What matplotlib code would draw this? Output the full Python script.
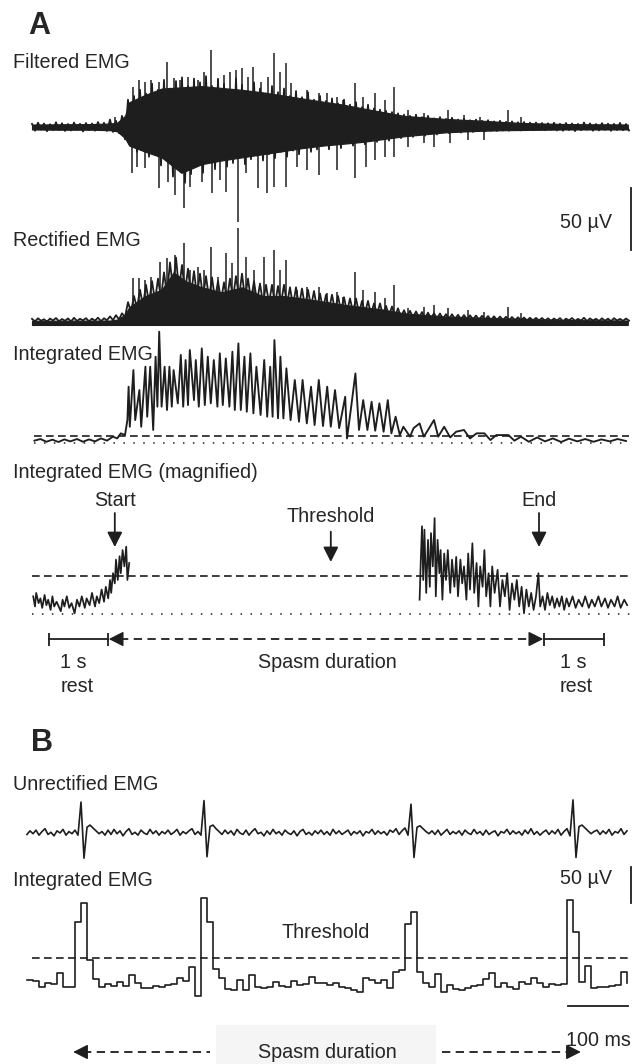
import numpy as np
import matplotlib
matplotlib.use("Agg")
import matplotlib.pyplot as plt
from matplotlib.patches import Rectangle

plt.rcParams['font.family'] = ['Liberation Sans', 'DejaVu Sans']

W, H = 633, 1064
INK = '#1e1e1e'
TXT = '#262626'
FS = 14.2

# ======================= DATA =======================
# ---- Panel A : time in s, amplitude in µV ----
# dense core of the filtered burst (upper / lower edge)
filt_env_t = [0.0, 0.5, 1.0, 1.3, 1.42, 1.55, 1.62, 1.89, 2.16, 2.49,
              2.83, 3.16, 3.50, 3.84, 4.18, 4.51, 4.85, 5.19, 5.52, 5.86,
              6.20, 6.53, 6.87, 7.20, 7.54, 7.87, 8.21, 8.55, 8.89, 9.3, 9.6, 9.93]
filt_env_up = [2.0, 2.2, 2.4, 2.8, 3.5, 9, 20, 26, 31, 32,
               33, 31.5, 30, 28, 25.5, 23, 20.5, 18, 15, 12,
               9, 7.8, 6.6, 5.8, 5.0, 4.0, 3.2, 2.8, 2.4, 2.2, 2.2, 2.0]
filt_env_lo = [-2.0, -2.2, -2.2, -2.6, -3.5, -9, -15, -20, -24.5, -37,
               -30, -27, -24.5, -22, -19.5, -17, -15, -13.5, -12, -9.7,
               -7.5, -6, -4.4, -3.6, -3.0, -2.6, -2.4, -2.2, -2.0, -2.0, -2.0, -2.0]
# sampled trace (every 50 ms) giving the jagged texture of the filtered EMG
filt_dt = 0.05
filt_zz = [2.5, -3, 3.5, -2, 2.8, -3.4, 2.2, -2.6, 3.8, -2.4,
           3, -3.2, 2.4, -2.8, 3.6, -2.2, 2.6, -3.6, 3.2, -2.5,
           2.8, -3, 4, -2.6, 3.4, -3.2, 6, -4, 5, -5,
           9, -10, 22, -14, 25, -20, 30, -17, 27, -24,
           35, -21, 30, -31, 38, -26, 31, -40, 37, -33,
           40, -45, 33, -38, 39, -30, 36, -37, 41, -28,
           33, -34, 38, -27, 35, -32, 30, -29, 39, -25,
           34, -30, 29, -26, 36, -23, 31, -27, 27, -22,
           33, -25, 28, -20, 31, -24, 25, -19, 29, -22,
           24, -17, 28, -20, 22, -18, 25, -15, 21, -18,
           23, -14, 19, -17, 22, -13, 18, -15, 20, -12,
           16, -14, 18, -11, 15, -12, 14, -10, 13, -11,
           12, -8, 11, -9, 10, -7, 9, -8, 10, -6,
           8, -7, 9, -5, 7, -6, 8, -4.5, 6.5, -5,
           7.5, -4, 6, -4.5, 6.5, -3.5, 5.5, -4, 6, -3,
           5, -3.5, 5.5, -3, 4.5, -3.2, 5, -2.8, 4.2, -3,
           4.5, -2.6, 3.8, -2.8, 4, -2.5, 3.5, -2.6, 3.6, -2.4,
           3.2, -2.5, 3, -2.2, 3.4, -2.8, 2.6, -3, 3.2, -2.4,
           2.8, -3.3, 2.5, -2.6, 3.6, -2.2, 2.9, -3, 2.4, -2.7,
           3.1, -2.3, 2.7, -3.1, 2.5, -2.4, 3.3, -2.6, 2.4, -2.8]
filt_up_t = [1.30, 1.38, 1.69, 1.79, 1.89, 1.99, 2.12, 2.25, 2.36, 2.46,
             2.60, 2.76, 2.86, 2.98, 3.10, 3.20, 3.30, 3.40, 3.50, 3.60,
             3.69, 3.81, 3.94, 4.04, 4.14, 4.23, 4.31, 4.58, 4.78, 4.92,
             5.09, 5.19, 5.39, 5.52, 5.72, 5.89, 6.04, 6.26, 6.53, 6.94,
             7.20, 7.47, 7.93, 8.15]
filt_up_v = [6, 8, 32.5, 37.9, 36.5, 37.9, 36.5, 52.7, 39.2, 37.9,
             40.6, 37.9, 44.6, 62.1, 39.2, 41.9, 44.6, 46.0, 47.3, 40.6,
             48.6, 36.5, 40.6, 59.4, 44.6, 51.9, 35.2, 29.8, 27.2, 27.2,
             24.4, 21.8, 35.2, 24.4, 27.2, 21.8, 32.0, 13.7, 11.0, 13.7,
             9.7, 8.3, 13.7, 8.3]
filt_lo_t = [1.67, 1.75, 1.89, 2.12, 2.26, 2.39, 2.53, 2.63, 2.83, 3.00,
             3.13, 3.23, 3.44, 3.57, 3.77, 3.91, 4.04, 4.23, 4.41, 4.58,
             4.78, 5.09, 5.39, 5.56, 5.72, 5.89, 6.03, 6.26, 6.53, 6.70,
             6.97, 7.27, 7.54]
filt_lo_v = [-37.4, -32.0, -33.3, -49.4, -44.1, -54.8, -65.6, -48.1, -44.1, -53.5,
             -42.7, -52.2, -76.4, -37.4, -49.4, -53.5, -48.1, -48.1, -32.0, -34.7,
             -38.7, -34.7, -41.4, -32.0, -26.6, -24.0, -24.0, -15.9, -13.2, -15.9,
             -13.2, -10.5, -10.5]

rect_env_t = [0.0, 1.3, 1.42, 1.55, 1.62, 1.89, 2.16, 2.36, 2.56, 2.83,
              3.16, 3.50, 3.84, 4.18, 4.51, 4.85, 5.19, 5.52, 5.86, 6.20,
              6.87, 7.54, 8.21, 8.89, 9.93]
rect_env_up = [1.0, 1.2, 2, 6, 12, 21, 26, 40, 33, 28,
               24, 28, 21, 21, 19, 16.5, 14, 12, 10, 7,
               4.5, 3.3, 2.4, 1.6, 1.2]
rect_floor = -2.4
rect_dt = 0.05
rect_zz = [2.5, 0.5, 3, 1, 2.2, 0.3, 2.8, 1.2, 3.2, 0.6,
           2.4, 1, 2.9, 0.4, 3.4, 0.8, 2.6, 1.3, 3.1, 0.5,
           2.7, 1.1, 3.5, 0.7, 3, 1.4, 4.5, 1.5, 5.5, 2,
           7, 4, 16, 8, 21, 11, 26, 13, 30, 15,
           33, 17, 35, 19, 40, 22, 48, 27, 52, 26,
           46, 24, 43, 22, 41, 21, 39, 20, 37, 19,
           36, 18, 33, 17, 32, 18, 35, 19, 37, 20,
           39, 19, 35, 17, 33, 16, 31, 15, 30, 15,
           30, 14, 29, 15, 30, 14, 28, 13, 28, 13,
           27, 12, 26, 12, 25, 11, 23, 10, 22, 10,
           22, 9, 21, 9, 20, 8, 19, 8, 19, 7,
           17, 7, 17, 6, 15, 6, 15, 5, 13, 5,
           12.5, 4.5, 11, 4, 9.5, 4, 9, 3.5, 8.5, 3.5,
           8, 3, 7.5, 3, 7, 2.8, 6.8, 2.5, 6.3, 2.5,
           6.2, 2.2, 5.8, 2.2, 5.6, 2, 5.4, 2, 5.2, 1.8,
           5, 1.8, 4.8, 1.6, 4.6, 1.6, 4.4, 1.5, 4.2, 1.5,
           4, 1.4, 3.8, 1.4, 3.6, 1.3, 3.4, 1.3, 3.3, 1.2,
           3.2, 1.1, 3, 0.8, 2.8, 1.2, 3.1, 0.6, 2.7, 1.3,
           3.2, 0.9, 2.5, 1.1, 3.4, 0.7, 2.9, 1.2, 2.6, 0.8,
           3, 1, 2.7, 0.6, 3.1, 1.2, 2.5, 0.9, 2.8, 1.1]
rect_spk_t = [1.69, 1.79, 1.89, 1.99, 2.14, 2.25, 2.39, 2.53, 2.63, 2.76,
              2.86, 2.98, 3.10, 3.23, 3.33, 3.44, 3.57, 3.70, 3.87, 4.04,
              4.14, 4.23, 4.41, 4.58, 4.78, 4.92, 5.09, 5.19, 5.39, 5.52,
              5.72, 5.89, 6.04, 6.26, 6.53, 6.70, 6.94, 7.27, 7.54, 7.93, 8.15]
rect_spk_v = [35.2, 35.2, 33.9, 36.6, 48.7, 51.3, 54.0, 63.4, 41.9, 44.6,
              41.9, 60.2, 36.6, 55.4, 47.3, 75.5, 52.7, 41.9, 52.7, 58.1,
              41.9, 50.0, 25.8, 28.5, 28.5, 23.1, 24.4, 20.4, 40.6, 25.8,
              24.4, 19.1, 29.8, 11.0, 12.4, 13.7, 11.0, 9.7, 8.3, 11.8, 7.0]

int_t = [0.04, 0.14, 0.24, 0.34, 0.44, 0.54, 0.64, 0.75, 0.85, 0.95,
         1.05, 1.15, 1.25, 1.35, 1.42, 1.48, 1.55, 1.59, 1.61, 1.63,
         1.69, 1.72, 1.79, 1.82, 1.89, 1.92, 1.97, 2.02, 2.06, 2.09,
         2.12, 2.16, 2.21, 2.25, 2.29, 2.33, 2.36, 2.43, 2.48, 2.52,
         2.56, 2.60, 2.63, 2.70, 2.73, 2.78, 2.83, 2.88, 2.93, 2.98,
         3.03, 3.09, 3.13, 3.18, 3.23, 3.29, 3.34, 3.38, 3.44, 3.48,
         3.54, 3.58, 3.64, 3.69, 3.74, 3.81, 3.87, 3.92, 3.97, 4.01,
         4.04, 4.10, 4.14, 4.19, 4.24, 4.31, 4.38, 4.45, 4.51, 4.58,
         4.65, 4.71, 4.78, 4.85, 4.92, 4.98, 5.05, 5.12, 5.22, 5.25,
         5.32, 5.39, 5.45, 5.52, 5.59, 5.66, 5.72, 5.79, 5.86, 5.93,
         5.99, 6.06, 6.13, 6.19, 6.30, 6.36, 6.46, 6.53, 6.60, 6.70,
         6.77, 6.87, 6.97, 7.07, 7.20, 7.30, 7.41, 7.54, 7.64, 7.74,
         7.94, 8.04, 8.15, 8.28, 8.42, 8.55, 8.68, 8.82, 8.95, 9.09,
         9.22, 9.36, 9.49, 9.63, 9.76, 9.90]
int_v = [1.9, 3.2, 1.0, 2.7, 0.8, 2.9, 1.3, 3.2, 1.0, 2.9,
         1.3, 3.7, 1.9, 5.1, 3.7, 7.8, 6.4, 18.5, 45.4, 13.1,
         58.8, 18.5, 42.7, 13.1, 61.5, 21.2, 61.5, 10.5, 69.6, 29.3,
         89.8, 29.3, 61.5, 26.6, 61.5, 29.3, 58.8, 32.0, 71.0, 29.3,
         66.9, 30.6, 75.0, 34.6, 66.9, 29.3, 76.3, 30.6, 69.6, 32.0,
         66.9, 29.3, 72.3, 30.6, 68.2, 29.3, 73.6, 26.6, 80.3, 26.6,
         69.6, 25.2, 72.3, 23.9, 61.5, 22.6, 66.9, 21.2, 61.5, 21.2,
         83.0, 19.9, 69.6, 19.9, 60.2, 18.5, 50.8, 17.2, 50.8, 15.8,
         45.4, 14.5, 50.8, 13.7, 45.4, 13.1, 42.7, 12.0, 37.3, 3.7,
         29.3, 56.1, 10.5, 34.6, 10.5, 33.3, 9.9, 32.0, 9.1, 34.6,
         7.8, 21.2, 6.4, 13.1, 5.1, 12.0, 15.8, 5.1, 10.5, 18.5,
         5.1, 13.1, 4.5, 9.1, 10.5, 3.7, 7.8, 7.8, 2.4, 6.4,
         6.4, 1.9, 5.1, 1.0, 4.5, 1.3, 3.7, 0.8, 3.5, 1.3,
         3.2, 1.0, 2.9, 1.3, 3.2, 1.6]

mag_left_t = [0.02, 0.05, 0.07, 0.11, 0.14, 0.17, 0.21, 0.24, 0.27, 0.31,
              0.34, 0.37, 0.41, 0.48, 0.51, 0.54, 0.58, 0.62, 0.66, 0.71,
              0.75, 0.79, 0.83, 0.88, 0.91, 0.96, 1.00, 1.05, 1.08, 1.12,
              1.16, 1.20, 1.23, 1.27, 1.30, 1.32, 1.35, 1.38, 1.40, 1.43,
              1.46, 1.48, 1.51, 1.54, 1.57, 1.59, 1.62]
mag_left_v = [2.6, 1.1, 3.1, 1.6, 2.3, 0.9, 2.8, 1.3, 2.1, 0.6,
              2.6, 1.1, 1.8, 0.4, 2.1, 1.1, 2.6, 0.9, 1.6, 0.1,
              2.1, 1.1, 2.6, 0.9, 2.3, 1.3, 3.1, 1.1, 2.6, 1.6,
              3.6, 1.8, 4.0, 2.3, 5.0, 3.1, 6.0, 4.5, 8.0, 5.0,
              8.5, 6.0, 9.4, 7.0, 9.9, 5.0, 7.5]
mag_right_t = [6.46, 6.48, 6.50, 6.52, 6.54, 6.57, 6.60, 6.63, 6.65, 6.68, 6.71,
               6.73, 6.76, 6.79, 6.81, 6.84, 6.87, 6.90, 6.93, 6.97, 7.00,
               7.04, 7.07, 7.10, 7.14, 7.17, 7.20, 7.24, 7.27, 7.30, 7.34,
               7.37, 7.41, 7.44, 7.47, 7.51, 7.54, 7.57, 7.61, 7.64, 7.67,
               7.71, 7.76, 7.80, 7.84, 7.88, 7.92, 7.96, 8.00, 8.04, 8.08,
               8.12, 8.16, 8.20, 8.24, 8.28, 8.32, 8.36, 8.40, 8.44, 8.47,
               8.51, 8.55, 8.59, 8.63, 8.67, 8.71, 8.75, 8.79, 8.83, 8.87,
               8.91, 8.95, 9.01, 9.06, 9.11, 9.17, 9.22, 9.28, 9.33, 9.38,
               9.44, 9.49, 9.55, 9.60, 9.65, 9.71, 9.76, 9.81, 9.87, 9.92]
mag_right_v = [2.1, 8.0, 12.9, 5.0, 12.4, 3.1, 10.9, 4.0, 11.9, 7.0, 14.1,
               2.6, 10.9, 6.0, 9.4, 2.1, 8.9, 5.0, 9.4, 3.1, 8.0,
               4.0, 8.4, 2.6, 8.0, 4.5, 7.0, 2.1, 8.9, 3.6, 10.4,
               3.1, 7.5, 1.1, 7.0, 4.0, 9.4, 2.6, 6.0, 1.1, 7.0,
               3.1, 6.5, 1.1, 5.0, 2.6, 6.0, 0.6, 4.5, 2.1, 5.0,
               1.1, 4.0, 0.1, 3.6, 1.1, 3.1, 0.6, 2.6, 6.0, 1.1,
               2.6, 0.6, 3.1, 1.3, 2.6, 0.9, 2.3, 1.1, 2.6, 0.6,
               2.3, 1.1, 2.6, 0.9, 2.1, 1.1, 2.6, 0.9, 2.1, 1.1,
               2.6, 1.1, 2.3, 0.9, 2.1, 1.1, 2.6, 0.9, 2.1, 1.3]

threshold_A = 5.6                      # µV
rest_start, spasm_start = 0.28, 1.27   # s
spasm_end, rest_end = 8.53, 9.53       # s
start_mark, threshold_mark, end_mark = 1.38, 4.98, 8.45

# ---- Panel B : time in ms, amplitude in µV ----
unrect_dt = 5
unrect_v = [-2, 3, -1, 4, -3, 2, 6, -2, 1, -4,
            3, 0, 5, -3, 2, -1, 4, -3, 43, -35,
            8, 11, 7, 3, -1, 2, -3, 4, -2, 5,
            -1, 3, -4, 2, 6, -2, 1, -3, 4, 0,
            -2, 5, -1, 3, -3, 2, -1, 4, -2, 1,
            5, -3, 2, -1, 3, 6, -2, 2, -3, 45,
            -33, 9, 11, 6, 2, -2, 4, -1, 3, -3,
            5, 0, -2, 4, -3, 2, 6, -1, 1, -4,
            3, -2, 5, -1, 2, -3, 4, 0, -2, 3,
            -4, 2, 5, -2, 1, -3, 3, -1, 4, -2,
            2, -3, 5, -1, 3, -2, 1, 4, -3, 2,
            -1, 3, -4, 2, 0, 5, -2, 3, -1, 2,
            -3, 4, 1, 6, -2, 3, 7, -3, 40, -34,
            8, 10, 6, 2, -1, 3, -2, 4, -3, 1,
            5, -2, 2, -1, 3, -3, 4, 0, -2, 5,
            -1, 2, -3, 4, -2, 1, 3, -4, 2, 0,
            5, -2, 3, -1, 2, -3, 4, -1, 6, -2,
            2, -3, 1, 4, -2, 3, -1, 5, -3, 2,
            6, -4, 46, -34, 9, 11, 7, 3, -1, 2,
            4, -2, 3, -1, 5, -3, 2, 0, 6, -2,
            3]
integ_bin = 10
integ_v = [27.8, 26.9, 18.5, 23.2, 22.2, 38.0, 17.6, 18.5, 108.8, 134.3,
           55.6, 28.7, 18.5, 22.2, 19.9, 25.5, 19.5, 34.7, 23.2, 17.1,
           17.1, 19.5, 17.6, 20.9, 22.2, 30.1, 26.9, 45.4, 5.6, 141.2,
           108.8, 42.6, 30.1, 14.8, 13.9, 27.8, 13.9, 34.7, 18.5, 16.2,
           18.5, 25.5, 19.5, 17.6, 26.9, 20.9, 22.2, 31.5, 23.2, 24.1,
           20.9, 23.2, 18.5, 16.2, 13.9, 11.6, 30.1, 27.8, 24.1, 27.8,
           16.2, 39.4, 41.7, 105.6, 122.7, 39.4, 23.2, 17.6, 36.1, 11.6,
           20.9, 14.8, 13.9, 16.2, 19.5, 20.9, 28.7, 38.0, 18.5, 23.2,
           17.6, 14.8, 25.5, 22.2, 30.1, 24.1, 18.5, 22.2, 20.9, 22.2,
           138.9, 94.9, 25.5, 47.2, 16.2, 17.6, 17.6, 19.5, 20.9, 39.4,
           23.2]
threshold_B = 58.3          # µV
spasm_B = (77, 923)         # ms
scale_uV = 50
scale_ms = 100

# ======================= FIGURE =======================
fig = plt.figure(figsize=(W / 100, H / 100), dpi=100)


def overlay(x0_px, x_scale, y0_px, y_scale):
    """Transparent axes over the whole figure: x -> x0_px + x_scale*x px, y -> y0_px - y_scale*y px."""
    ax = fig.add_axes([0, 0, 1, 1])
    ax.set_xlim(-x0_px / x_scale, (W - x0_px) / x_scale)
    ax.set_ylim((y0_px - H) / y_scale, y0_px / y_scale)
    ax.axis('off')
    ax.patch.set_alpha(0)
    return ax


axF = overlay(32, 60, 127, 1.24)     # filtered
axR = overlay(32, 60, 322, 1.24)     # rectified
axI = overlay(32, 60, 443, 1.24)     # integrated
axM = overlay(32, 60, 614, 6.8)      # integrated magnified
axU = overlay(27, 0.6, 833, 0.72)    # B unrectified
axS = overlay(27, 0.6, 1000, 0.72)   # B integrated (steps)
lay = fig.add_axes([0, 0, 1, 1])
lay.set_xlim(0, W)
lay.set_ylim(H, 0)
lay.axis('off')
lay.patch.set_alpha(0)

dash = (0, (4.6, 2.6))
dot = (0, (1, 5.5))

# ---- Filtered EMG ----
axF.fill_between(filt_env_t, filt_env_lo, filt_env_up, color=INK, lw=0.8)
axF.plot(np.arange(len(filt_zz)) * filt_dt, filt_zz, color=INK, lw=1.3)
axF.vlines(filt_up_t, 0, filt_up_v, color=INK, lw=1.1)
axF.vlines(filt_lo_t, filt_lo_v, 0, color=INK, lw=1.1)
axF.plot([9.98, 9.98], [-99.2, -99.2 + scale_uV], color=INK, lw=1.3)

# ---- Rectified EMG ----
axR.fill_between(rect_env_t, rect_floor, rect_env_up, color=INK, lw=0.8)
axR.plot(np.arange(len(rect_zz)) * rect_dt, rect_zz, color=INK, lw=1.3)
axR.vlines(rect_spk_t, 0, rect_spk_v, color=INK, lw=1.1)

# ---- Integrated EMG ----
axI.plot(int_t, int_v, color=INK, lw=1.35)
axI.plot([0.03, 9.95], [threshold_A, threshold_A], color=INK, lw=1.2, ls=dash)
axI.plot([0.03, 9.95], [0, 0], color=INK, lw=1.1, ls=dot)

# ---- Integrated EMG (magnified) ----
axM.plot(mag_left_t, mag_left_v, color=INK, lw=1.25)
axM.plot(mag_right_t, mag_right_v, color=INK, lw=1.25)
axM.plot([0.0, 9.97], [threshold_A, threshold_A], color=INK, lw=1.2, ls=dash)
axM.plot([0.0, 9.97], [0, 0], color=INK, lw=1.1, ls=dot)

arrow_kw = dict(arrowstyle='-|>,head_length=0.75,head_width=0.38', mutation_scale=12,
                lw=1.3, color=INK, shrinkA=0, shrinkB=0)
axM.annotate('', xy=(start_mark, 9.85), xytext=(start_mark, 14.85), arrowprops=arrow_kw)
axM.annotate('', xy=(end_mark, 9.85), xytext=(end_mark, 14.85), arrowprops=arrow_kw)
axM.annotate('', xy=(threshold_mark, 7.65), xytext=(threshold_mark, 12.1), arrowprops=arrow_kw)

# timeline
yl = -3.68
axM.plot([rest_start, spasm_start], [yl, yl], color=INK, lw=1.3)
axM.plot([spasm_end, rest_end], [yl, yl], color=INK, lw=1.3)
axM.vlines([rest_start, spasm_start, spasm_end, rest_end], yl - 1.0, yl + 0.95, color=INK, lw=1.3)
axM.plot([spasm_start + 0.2, spasm_end - 0.2], [yl, yl], color=INK, lw=1.3, ls=(0, (4.6, 3.0)))
head_kw = dict(arrowstyle='-|>,head_length=0.75,head_width=0.38', mutation_scale=12,
               lw=1.0, color=INK, shrinkA=0, shrinkB=0)
axM.annotate('', xy=(spasm_start + 0.01, yl), xytext=(spasm_start + 0.2, yl), arrowprops=head_kw)
axM.annotate('', xy=(spasm_end - 0.01, yl), xytext=(spasm_end - 0.2, yl), arrowprops=head_kw)

# ---- Panel B ----
ut = np.arange(len(unrect_v)) * unrect_dt
axU.plot(ut, unrect_v, color=INK, lw=1.2)

st = np.arange(len(integ_v)) * integ_bin
axS.step(st, integ_v, where='post', color=INK, lw=1.2)
axS.plot([8, 1005], [threshold_B, threshold_B], color=INK, lw=1.2, ls=dash)
axS.plot([1006.7, 1006.7], [134.7, 134.7 + scale_uV], color=INK, lw=1.3)
axS.plot([901.7, 901.7 + scale_ms], [-8.3, -8.3], color=INK, lw=1.3)

yb = -72.2
axS.plot([spasm_B[0] + 16, 305], [yb, yb], color=INK, lw=1.3, ls=(0, (4.6, 3.0)))
axS.plot([692, spasm_B[1] - 16], [yb, yb], color=INK, lw=1.3, ls=(0, (4.6, 3.0)))
axS.annotate('', xy=(spasm_B[0], yb), xytext=(spasm_B[0] + 17, yb), arrowprops=head_kw)
axS.annotate('', xy=(spasm_B[1], yb), xytext=(spasm_B[1] - 17, yb), arrowprops=head_kw)

# ---- text layer (pixel coordinates) ----
lay.add_patch(Rectangle((216, 1025), 220, 45, facecolor='#f5f5f5', edgecolor='none', zorder=0))


def txt(x, y, s, ha='left', **kw):
    lay.text(x, y, s, ha=ha, va='center', fontsize=kw.pop('fs', FS), color=TXT, **kw)


txt(28, 26, 'A', fs=22, fontweight='bold')
txt(13, 62, 'Filtered EMG')
txt(612, 222, '50 µV', ha='right')
txt(13, 240, 'Rectified EMG')
txt(13, 355, 'Integrated EMG')
txt(13, 473, 'Integrated EMG (magnified)')
txt(115, 500, 'Start', ha='center')
txt(331, 517, 'Threshold', ha='center')
txt(539, 500, 'End', ha='center')
txt(73, 663, '1 s', ha='center')
txt(77, 687, 'rest', ha='center')
txt(327, 663, 'Spasm duration', ha='center')
txt(573, 663, '1 s', ha='center')
txt(576, 687, 'rest', ha='center')

txt(31, 743, 'B', fs=22, fontweight='bold')
txt(13, 785, 'Unrectified EMG')
txt(13, 880, 'Integrated EMG')
txt(612, 878, '50 µV', ha='right')
txt(326, 933, 'Threshold', ha='center')
txt(598, 1041, '100 ms', ha='center')
txt(327, 1052, 'Spasm duration', ha='center')

fig.savefig('out.png', dpi=100)
